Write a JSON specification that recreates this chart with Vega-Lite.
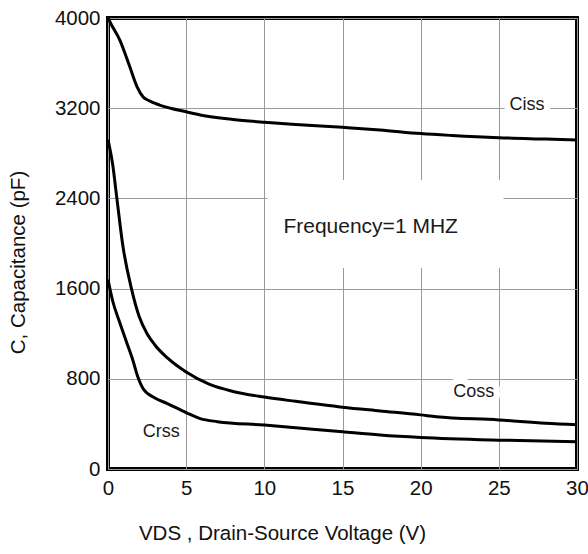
{
  "$schema": "https://vega.github.io/schema/vega-lite/v6.json",
  "width": 469,
  "height": 451,
  "autosize": {"type": "none"},
  "padding": {"left": 108, "top": 18, "right": 11, "bottom": 85},
  "background": "white",
  "config": {
    "view": {"stroke": "black", "strokeWidth": 4},
    "font": "Liberation Sans",
    "axis": {
      "labelFont": "Liberation Sans",
      "titleFont": "Liberation Sans",
      "labelFontSize": 20.5,
      "titleFontSize": 20.5,
      "titleFontWeight": "normal",
      "labelColor": "#111",
      "titleColor": "#111",
      "grid": true,
      "gridColor": "#9a9a9a",
      "gridWidth": 1,
      "ticks": false,
      "domain": false,
      "labelFlush": false,
      "format": "d"
    }
  },
  "datasets": {
    "curves": [
      {"series": "Ciss", "v": 0, "c": 4000},
      {"series": "Ciss", "v": 0.2, "c": 3945},
      {"series": "Ciss", "v": 0.77, "c": 3800},
      {"series": "Ciss", "v": 1.4, "c": 3565},
      {"series": "Ciss", "v": 1.86, "c": 3390},
      {"series": "Ciss", "v": 2.25, "c": 3300},
      {"series": "Ciss", "v": 2.6, "c": 3268},
      {"series": "Ciss", "v": 3.3, "c": 3228},
      {"series": "Ciss", "v": 4, "c": 3200},
      {"series": "Ciss", "v": 5, "c": 3168},
      {"series": "Ciss", "v": 5.9, "c": 3140},
      {"series": "Ciss", "v": 8, "c": 3100},
      {"series": "Ciss", "v": 10, "c": 3075},
      {"series": "Ciss", "v": 12, "c": 3055},
      {"series": "Ciss", "v": 15, "c": 3030},
      {"series": "Ciss", "v": 17.4, "c": 3007},
      {"series": "Ciss", "v": 20, "c": 2975},
      {"series": "Ciss", "v": 22, "c": 2958},
      {"series": "Ciss", "v": 25, "c": 2938},
      {"series": "Ciss", "v": 28, "c": 2926},
      {"series": "Ciss", "v": 30, "c": 2918},
      {"series": "Coss", "v": 0, "c": 2920},
      {"series": "Coss", "v": 0.3, "c": 2700},
      {"series": "Coss", "v": 0.55, "c": 2420},
      {"series": "Coss", "v": 0.95, "c": 1980},
      {"series": "Coss", "v": 1.5, "c": 1600},
      {"series": "Coss", "v": 2, "c": 1350},
      {"series": "Coss", "v": 2.5, "c": 1200},
      {"series": "Coss", "v": 3, "c": 1100},
      {"series": "Coss", "v": 3.8, "c": 985},
      {"series": "Coss", "v": 5, "c": 860},
      {"series": "Coss", "v": 6.5, "c": 750},
      {"series": "Coss", "v": 8, "c": 688},
      {"series": "Coss", "v": 10, "c": 638},
      {"series": "Coss", "v": 12, "c": 600},
      {"series": "Coss", "v": 15, "c": 548},
      {"series": "Coss", "v": 17.4, "c": 515},
      {"series": "Coss", "v": 20, "c": 480},
      {"series": "Coss", "v": 21, "c": 464},
      {"series": "Coss", "v": 25, "c": 435},
      {"series": "Coss", "v": 28, "c": 405},
      {"series": "Coss", "v": 30, "c": 392},
      {"series": "Crss", "v": 0, "c": 1680},
      {"series": "Crss", "v": 0.3, "c": 1490},
      {"series": "Crss", "v": 0.75, "c": 1300},
      {"series": "Crss", "v": 1.2, "c": 1120},
      {"series": "Crss", "v": 1.6, "c": 960},
      {"series": "Crss", "v": 1.9, "c": 820},
      {"series": "Crss", "v": 2.25, "c": 712},
      {"series": "Crss", "v": 3, "c": 630},
      {"series": "Crss", "v": 3.8, "c": 580},
      {"series": "Crss", "v": 5, "c": 500},
      {"series": "Crss", "v": 5.9, "c": 447},
      {"series": "Crss", "v": 7, "c": 420},
      {"series": "Crss", "v": 10, "c": 390},
      {"series": "Crss", "v": 15, "c": 330},
      {"series": "Crss", "v": 17.4, "c": 302},
      {"series": "Crss", "v": 20, "c": 280},
      {"series": "Crss", "v": 25, "c": 256},
      {"series": "Crss", "v": 30, "c": 242}
    ],
    "labels": [
      {"label": "Ciss", "v": 26.8, "c": 3228, "size": 18},
      {"label": "Coss", "v": 23.4, "c": 683, "size": 18},
      {"label": "Crss", "v": 3.4, "c": 328, "size": 18},
      {"label": "Frequency=1 MHZ", "v": 16.8, "c": 2146, "size": 21}
    ],
    "box": [
      {"v1": 10.2, "v2": 25.3, "c1": 1783, "c2": 2563}
    ]
  },
  "layer": [
    {
      "data": {"name": "box"},
      "mark": {"type": "rect", "fill": "white", "stroke": null},
      "encoding": {
        "x": {
          "field": "v1", "type": "quantitative",
          "scale": {"domain": [0, 30], "nice": false, "zero": false},
          "axis": {
            "values": [0, 5, 10, 15, 20, 25, 30],
            "labelPadding": 9,
            "title": "VDS , Drain-Source Voltage (V)",
            "titleX": 174,
            "titleY": 64,
            "titleAlign": "center",
            "titleBaseline": "middle",
            "titleAnchor": null
          }
        },
        "x2": {"field": "v2"},
        "y": {
          "field": "c1", "type": "quantitative",
          "scale": {"domain": [0, 4000], "nice": false, "zero": false},
          "axis": {
            "values": [0, 800, 1600, 2400, 3200, 4000],
            "labelPadding": 8,
            "title": "C, Capacitance (pF)",
            "titleAngle": -90,
            "titleX": -90,
            "titleY": 244,
            "titleAlign": "center",
            "titleBaseline": "middle",
            "titleAnchor": null
          }
        },
        "y2": {"field": "c2"}
      }
    },
    {
      "data": {"name": "curves"},
      "mark": {"type": "line", "color": "black", "strokeWidth": 3, "interpolate": "monotone", "clip": true},
      "encoding": {
        "x": {"field": "v", "type": "quantitative"},
        "y": {"field": "c", "type": "quantitative"},
        "detail": {"field": "series"}
      }
    },
    {
      "data": {"name": "labels"},
      "mark": {"type": "text", "font": "Liberation Sans", "fill": "white", "stroke": "white", "strokeWidth": 13, "strokeJoin": "round", "align": "center", "baseline": "middle"},
      "encoding": {
        "x": {"field": "v", "type": "quantitative"},
        "y": {"field": "c", "type": "quantitative"},
        "text": {"field": "label"},
        "size": {"field": "size", "type": "quantitative", "scale": null, "legend": null}
      }
    },
    {
      "data": {"name": "labels"},
      "mark": {"type": "text", "font": "Liberation Sans", "color": "#1a1a1a", "align": "center", "baseline": "middle"},
      "encoding": {
        "x": {"field": "v", "type": "quantitative"},
        "y": {"field": "c", "type": "quantitative"},
        "text": {"field": "label"},
        "size": {"field": "size", "type": "quantitative", "scale": null, "legend": null}
      }
    }
  ]
}
